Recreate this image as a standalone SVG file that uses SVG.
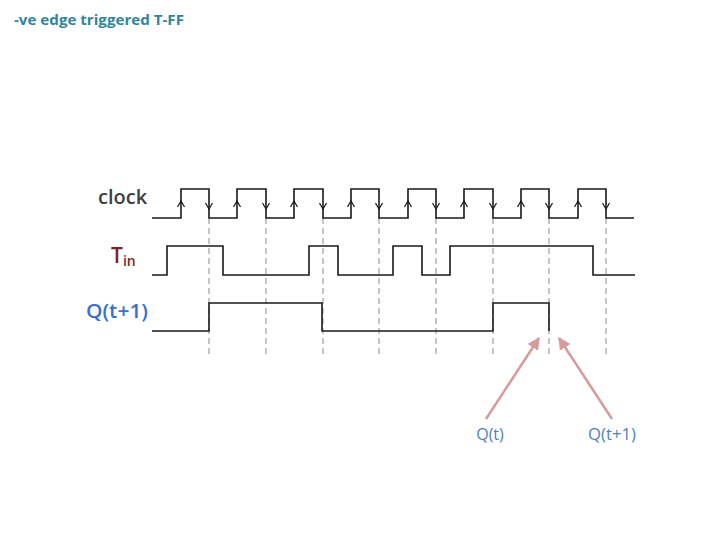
<svg xmlns="http://www.w3.org/2000/svg" width="720" height="540" viewBox="0 0 720 540">
<defs>
<style>
.sig{fill:none;stroke:#1a1a1a;stroke-width:1.6}
.chev{fill:none;stroke:#1a1a1a;stroke-width:1.2}
.dash{fill:none;stroke:#a0a0a0;stroke-width:1.2;stroke-dasharray:6,4}
.ptr{fill:none;stroke:#d49c9c;stroke-width:2.5}
.lbl{font-family:"Open Sans","Liberation Sans",sans-serif}
</style>
<marker id="ah" viewBox="0 0 10 10" refX="9" refY="5" markerWidth="5" markerHeight="5" orient="auto" markerUnits="strokeWidth">
<path d="M0,0 L10,5 L0,10 z" fill="#d49c9c"/>
</marker>
</defs>
<rect width="720" height="540" fill="#ffffff"/>
<text x="14" y="25" class="lbl" font-size="15" font-weight="bold" fill="#31859c" textLength="170" lengthAdjust="spacingAndGlyphs">-ve edge triggered T-FF</text>

<g id="labels">
<text x="98" y="204" class="lbl" font-size="20" font-weight="600" fill="#404040">clock</text>
<text x="111" y="263" class="lbl" font-size="21" font-weight="600" fill="#7f1f1f">T<tspan font-size="14" dy="3">in</tspan></text>
<text x="86" y="318" class="lbl" font-size="20" font-weight="600" fill="#3b6fcf" textLength="62" lengthAdjust="spacingAndGlyphs">Q(t+1)</text>
</g>

<g id="dashed">
<line class="dash" x1="209" y1="218" x2="209" y2="357"/>
<line class="dash" x1="266" y1="218" x2="266" y2="357"/>
<line class="dash" x1="323" y1="218" x2="323" y2="357"/>
<line class="dash" x1="379" y1="218" x2="379" y2="357"/>
<line class="dash" x1="436" y1="218" x2="436" y2="357"/>
<line class="dash" x1="493" y1="218" x2="493" y2="357"/>
<line class="dash" x1="549" y1="218" x2="549" y2="357"/>
<line class="dash" x1="606" y1="218" x2="606" y2="357"/>
</g>

<g id="clock">
<path class="sig" d="M152,218 H181 V189 H209 V218 H237 V189 H266 V218 H294 V189 H323 V218 H351 V189 H379 V218 H408 V189 H436 V218 H464 V189 H493 V218 H521 V189 H549 V218 H578 V189 H606 V218 H634"/>
<path class="chev" d="M177.5,207 L181,201 L184.5,207 M233.5,207 L237,201 L240.5,207 M290.5,207 L294,201 L297.5,207 M347.5,207 L351,201 L354.5,207 M404.5,207 L408,201 L411.5,207 M460.5,207 L464,201 L467.5,207 M517.5,207 L521,201 L524.5,207 M574.5,207 L578,201 L581.5,207"/>
<path class="chev" d="M205.5,203 L209,209 L212.5,203 M262.5,203 L266,209 L269.5,203 M319.5,203 L323,209 L326.5,203 M375.5,203 L379,209 L382.5,203 M432.5,203 L436,209 L439.5,203 M489.5,203 L493,209 L496.5,203 M545.5,203 L549,209 L552.5,203 M602.5,203 L606,209 L609.5,203"/>
</g>

<g id="tin">
<path class="sig" d="M152,275 H167 V246 H223 V275 H309 V246 H338 V275 H393 V246 H422 V275 H450 V246 H593 V275 H635"/>
</g>

<g id="q">
<path class="sig" d="M152,331 H209 V303 H322 V331 H493 V303 H549 V331"/>
</g>

<g id="connectors">
<line class="ptr" x1="486" y1="419" x2="539" y2="338" marker-end="url(#ah)"/>
<line class="ptr" x1="612" y1="419" x2="559" y2="338" marker-end="url(#ah)"/>
</g>

<g id="notes">
<text x="490" y="440" class="lbl" font-size="16" fill="#4f7fbf" text-anchor="middle">Q(t)</text>
<text x="612" y="440" class="lbl" font-size="16" fill="#4f7fbf" text-anchor="middle" textLength="48" lengthAdjust="spacingAndGlyphs">Q(t+1)</text>
</g>
</svg>
